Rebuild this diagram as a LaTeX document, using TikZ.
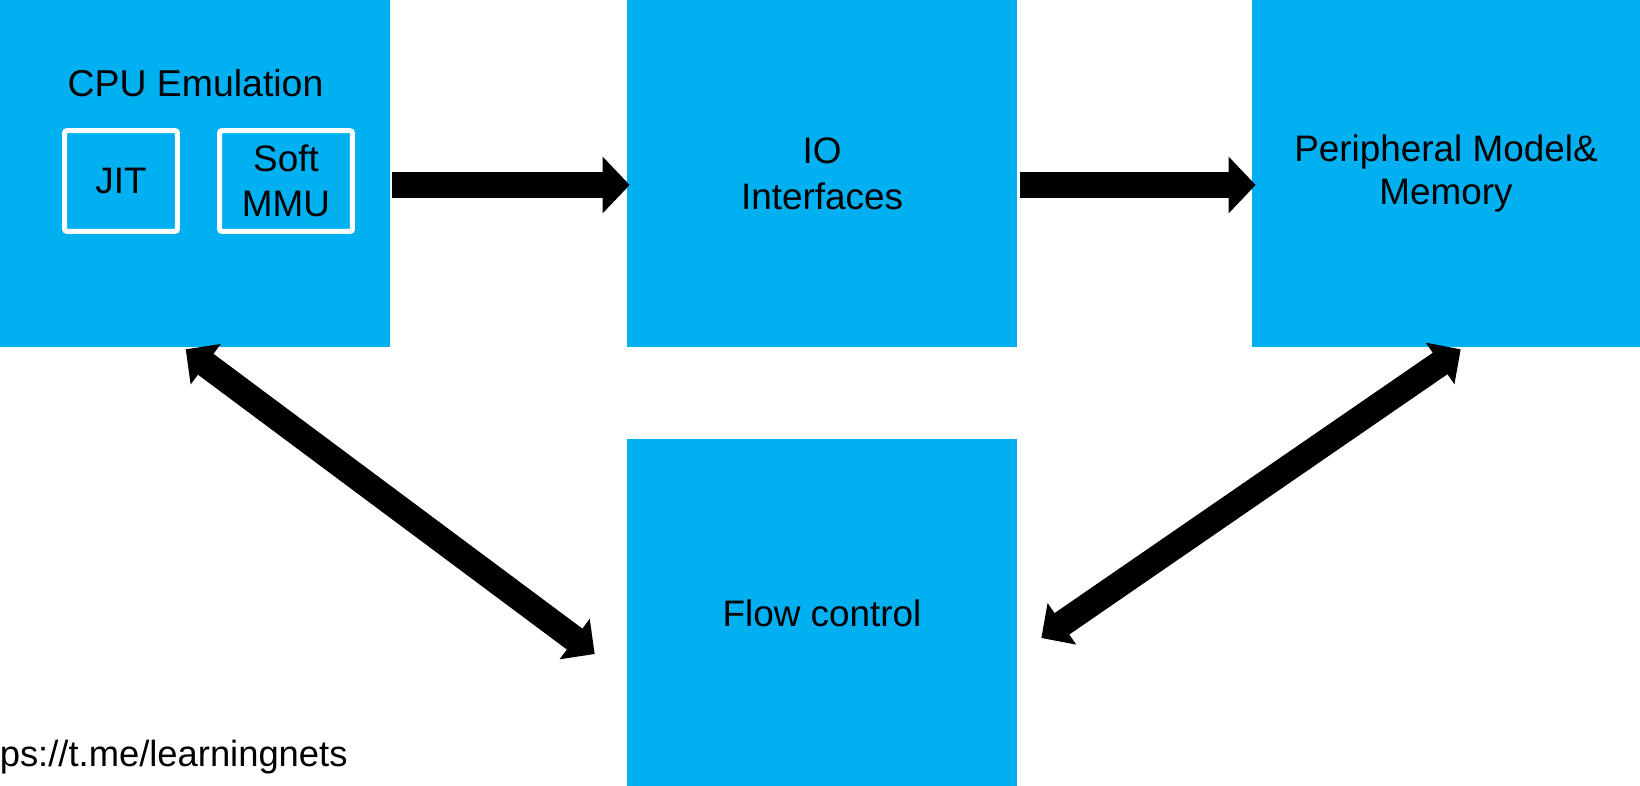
\documentclass[tikz,border=0pt]{standalone}
\usepackage{fontspec}
\setmainfont{Liberation Sans}
\usetikzlibrary{calc,arrows.meta,positioning}
\definecolor{ppblue}{HTML}{00B0F0}

\begin{document}
\begin{tikzpicture}[x=0.02cm, y=-0.02cm,
 block/.style={rectangle, fill=ppblue, inner sep=0pt, minimum width=7.8cm,
    minimum height=6.94cm, align=center, font=\fontsize{21pt}{26.4pt}\selectfont},
 subblock/.style={rectangle, draw=white, line width=0.1cm, rounded corners=1.5pt,
    inner sep=0pt, minimum height=2.02cm, align=center, font=\fontsize{21pt}{25.4pt}\selectfont},
 fat arrow/.style={line width=0.52cm, -{Triangle[length=0.54cm, width=1.1cm]}},
 fat biarrow/.style={line width=0.52cm,
    {Triangle[length=0.5cm, width=0.98cm]}-{Triangle[length=0.5cm, width=0.98cm]}}]

 \useasboundingbox (0,0) rectangle (1640,786);
 \clip (0,0) rectangle (1640,786);

% \draw[help lines] (0,0) grid[step=100] (1640,786);

 % the four blocks
 \node (cpu) [block] at (195,173.5) {};
 \node (io) [block] at (822,173.5) {IO\\Interfaces};
 \node (periph) [block, minimum width=7.76cm, font=\fontsize{21pt}{25pt}\selectfont]
    at (1446,173.5) {Peripheral Model\&\\Memory};
 \node (flow) [block, minimum height=6.96cm] at (822,613) {Flow control};

 % inside the cpu block
 \node (cputitle) [anchor=base, font=\fontsize{21.3pt}{26pt}\selectfont] at (195.5,97) {CPU Emulation};
 \node (jit) [subblock, minimum width=2.26cm] at (121,181) {JIT};
 \node (mmu) [subblock, minimum width=2.66cm] at (286,181) {Soft\\MMU};

 % arrows
 \draw [fat arrow] ($(cpu.east)+(2,11.5)$) -- ($(io.west)+(3,11.5)$);
 \draw [fat arrow] ($(io.east)+(2.5,11.5)$) -- ($(periph.west)+(4,11.5)$);
 \draw [fat biarrow] ($(cpu.south west)+(186,2)$) -- ($(flow.west)+(-32,41)$);
 \draw [fat biarrow] ($(periph.south west)+(209,2)$) -- ($(flow.east)+(24,25)$);

 \node (url) [anchor=base west, inner sep=0pt, font=\fontsize{20.7pt}{24pt}\selectfont]
    at (-41,766) {https://t.me/learningnets};

\end{tikzpicture}
\end{document}
